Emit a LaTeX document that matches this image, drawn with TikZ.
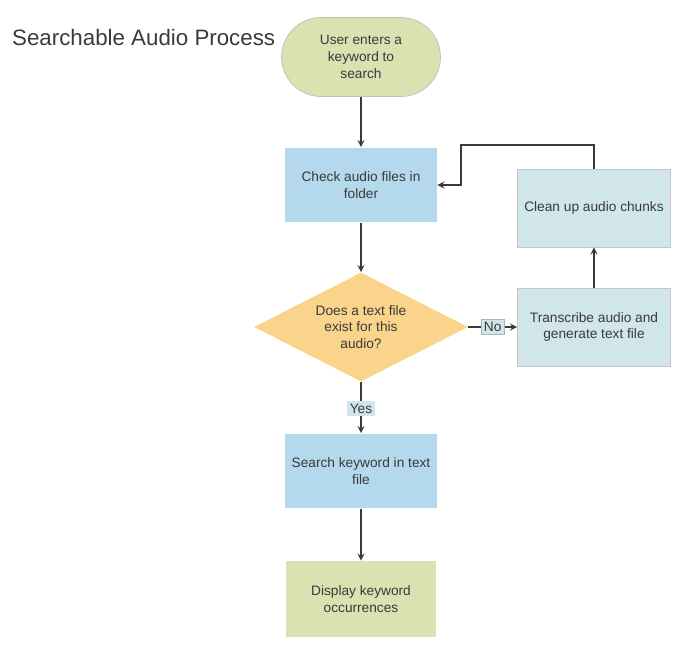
\documentclass[tikz,border=0pt]{standalone}
\usepackage{fontspec}
\setmainfont{Liberation Sans}
\usepackage{xcolor}
\usetikzlibrary{shapes,arrows,positioning}

\definecolor{termgreen}{HTML}{D9E2B1}
\definecolor{stepblue}{HTML}{B4D8EC}
\definecolor{decorange}{HTML}{FAD48A}
\definecolor{subcyan}{HTML}{D0E6EA}
\definecolor{inkgray}{HTML}{3A3A3A}

\begin{document}
\begin{tikzpicture}[
    x=0.02cm, y=-0.02cm,
    every node/.style={font=\fontsize{7.8}{9.6}\selectfont, text=inkgray, align=center},
    terminal/.style={rectangle, rounded corners=0.79cm, draw=gray!50, thin, fill=termgreen, minimum width=3.18cm, minimum height=1.58cm},
    process/.style={rectangle, fill=stepblue, minimum width=3.04cm, minimum height=1.5cm},
    finish/.style={rectangle, fill=termgreen, minimum width=3.02cm, minimum height=1.52cm},
    subtask/.style={rectangle, draw=gray!45, thin, fill=subcyan, minimum width=3.06cm, minimum height=1.56cm},
    decision/.style={diamond, fill=decorange, aspect=2, inner sep=0pt, minimum width=4.28cm, minimum height=2.18cm},
    answer/.style={rectangle, fill=subcyan, inner sep=1.5pt},
    flow/.style={thick, ->, >=stealth, inkgray},
]
\useasboundingbox (0,0) rectangle (684,650);

% Title
\node[anchor=west, font=\fontsize{12.7}{14}\selectfont] (title) at (6,38) {Searchable Audio Process};

% Main column
\node[terminal] (start) at (361,57) {User enters a\\keyword to\\search};
\node[process] (check) at (361,185) {Check audio files in\\folder};
\node[decision] (exists) at (361,327) {Does a text file\\exist for this\\audio?};
\node[process] (search) at (361,471) {Search keyword in text\\file};
\node[finish] (display) at (361,599) {Display keyword\\occurrences};

% Side branch
\node[subtask] (transcribe) at (594,327) {Transcribe audio and\\generate text file};
\node[subtask] (cleanup) at (594,208) {Clean up audio chunks};

% Loop corners
\coordinate (loopA) at (594,145);
\coordinate (loopB) at (461,145);
\coordinate (loopC) at (461,185);

% Edges
\draw[flow] (start) -- (check);
\draw[flow] (check) -- (exists);
\draw[flow] (exists) -- node[answer, pos=0.52] {Yes} (search);
\draw[flow] (search) -- (display);
\draw[flow] (exists) -- node[answer, draw=gray!60, thin, pos=0.5] {No} (transcribe);
\draw[flow] (transcribe) -- (cleanup);
\draw[flow] (cleanup.north) -- (loopA) -- (loopB) -- (loopC) -- (check.east);

\end{tikzpicture}
\end{document}
